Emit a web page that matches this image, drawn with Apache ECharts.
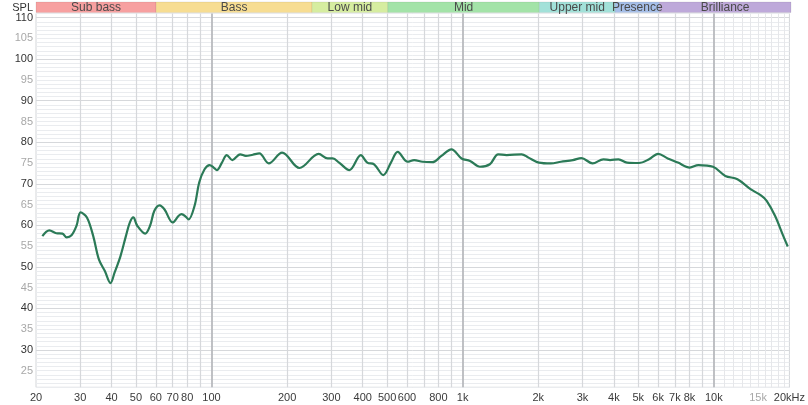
<!DOCTYPE html>
<html>
<head>
<meta charset="utf-8">
<script src="https://cdn.jsdelivr.net/npm/echarts@6/dist/echarts.min.js"></script>
<style>html,body{margin:0;padding:0;background:#fff;}#c{width:808px;height:405px;}</style>
</head>
<body>
<div id="c"></div>
<script>
var freqs = [21.2, 22.6, 24.1, 25.5, 26.5, 27.7, 29.0, 30.1, 31.9, 33.8, 35.6, 37.6, 39.6, 41.1, 43.4, 45.6, 47.3, 48.8, 50.6, 54.4, 56.9, 59.2, 62.1, 65.0, 70.0, 74.0, 76.0, 78.9, 81.0, 85.6, 89.3, 93.8, 98.2, 102, 105, 110, 115, 121, 130, 137, 146, 155, 169, 191, 224, 267, 290, 304, 322, 354, 393, 417, 444, 483, 518, 551, 604, 641, 692, 757, 823, 902, 990, 1070, 1171, 1283, 1385, 1496, 1717, 1828, 2010, 2243, 2462, 2746, 2970, 3291, 3633, 3862, 4173, 4511, 5030, 5522, 6002, 6555, 7195, 8022, 8682, 9926, 11115, 12418, 14000, 15407, 16238, 17526, 18916, 19700];
var spl = [57.4, 58.8, 58.1, 58.0, 57.1, 57.6, 59.9, 63.1, 61.9, 57.4, 51.8, 49.0, 46.1, 48.6, 52.6, 57.4, 60.7, 61.9, 59.9, 58.0, 59.9, 63.5, 64.8, 63.8, 60.7, 62.3, 62.7, 62.1, 61.4, 64.7, 70.3, 73.5, 74.5, 73.9, 73.3, 75.1, 76.9, 75.7, 77.1, 76.7, 77.0, 77.3, 74.9, 77.5, 73.8, 77.2, 76.1, 76.1, 75.1, 73.3, 76.9, 75.1, 74.7, 72.1, 75.1, 77.7, 75.3, 75.7, 75.3, 75.2, 76.7, 78.3, 76.1, 75.5, 74.1, 74.7, 77.1, 76.9, 77.1, 76.3, 75.1, 74.9, 75.3, 75.7, 76.2, 74.9, 75.9, 75.7, 75.9, 75.1, 75.0, 75.9, 77.2, 76.1, 75.1, 73.9, 74.5, 74.1, 71.9, 71.1, 68.7, 67.2, 65.9, 62.3, 57.4, 54.9];

var xTickValues = [20, 30, 40, 50, 60, 70, 80, 100, 200, 300, 400, 500, 600, 800, 1000, 2000, 3000, 4000, 5000, 6000, 7000, 8000, 10000, 15000, 20000];
var xTickLabels = ['20', '30', '40', '50', '60', '70', '80', '100', '200', '300', '400', '500', '600', '800', '1k', '2k', '3k', '4k', '5k', '6k', '7k', '8k', '10k', '15k', '20kHz'];
var xGridValues = [30, 40, 50, 60, 70, 80, 90, 200, 300, 400, 500, 600, 700, 800, 900, 2000, 3000, 4000, 5000, 6000, 7000, 8000, 9000];
var xDecadeValues = [100, 1000, 10000];
var xFineValues = [11000, 12000, 13000, 14000, 15000, 16000, 17000, 18000, 19000];

var bandNames = ['Sub bass', 'Bass', 'Low mid', 'Mid', 'Upper mid', 'Presence', 'Brilliance'];
var bandEdges = [20, 60, 250, 500, 2000, 4000, 6000, 20000];
var bandColors = ['#f7a0a0', '#f7dd92', '#d6eda0', '#a3e3a8', '#a2e1d9', '#a6bfe9', '#bea9da'];

var yMin = 21, yMax = 111;

var FONT = 'Helvetica, Arial, "Liberation Sans", sans-serif';

var chart = echarts.init(document.getElementById('c'), null, {renderer: 'canvas'});

var gridMarks = [];
xGridValues.forEach(function (v) { gridMarks.push({xAxis: v, lineStyle: {color: '#d6d8db', width: 1.2, type: 'solid'}}); });
xFineValues.forEach(function (v) { gridMarks.push({xAxis: v, lineStyle: {color: '#e6e7ea', width: 1, type: 'solid'}}); });
xDecadeValues.forEach(function (v) { gridMarks.push({xAxis: v, lineStyle: {color: '#b8babe', width: 1.8, type: 'solid'}}); });

var bandAreas = [];
for (var i = 0; i < bandNames.length; i++) {
  bandAreas.push([
    {xAxis: bandEdges[i], yAxis: 0, name: bandNames[i], itemStyle: {color: bandColors[i], borderColor: 'rgba(0,0,0,0.12)', borderWidth: 0.6}},
    {xAxis: bandEdges[i + 1], yAxis: 1}
  ]);
}

var yColors = [];
for (var k = 0; k < 10; k++) {
  yColors.push(k === 9 ? '#d6d8db' : '#eaecef');
}

var option = {
  animation: false,
  backgroundColor: '#fff',
  grid: [
    {left: 36, right: 17, top: 13.5, bottom: 17.7, show: true, borderColor: '#d4d6d9', borderWidth: 1, backgroundColor: '#fff'},
    {left: 36, right: 17, top: 2, height: 10.5}
  ],
  xAxis: [
    {
      type: 'log', logBase: 10, min: 20, max: 20000, gridIndex: 0,
      axisLine: {show: false}, axisTick: {show: false}, splitLine: {show: false}, minorSplitLine: {show: false},
      axisLabel: {
        customValues: xTickValues,
        margin: 5,
        fontFamily: FONT, fontSize: 11, color: '#3a3a3a',
        formatter: function (v) {
          var idx = -1;
          for (var j = 0; j < xTickValues.length; j++) { if (Math.abs(xTickValues[j] - v) / xTickValues[j] < 1e-3) idx = j; }
          if (idx < 0) return '';
          var t = xTickLabels[idx];
          return t === '15k' ? '{l|' + t + '}' : t;
        },
        rich: {l: {color: '#a8a8a8', fontSize: 11, fontFamily: FONT}}
      }
    },
    {type: 'log', logBase: 10, min: 20, max: 20000, gridIndex: 1, show: false}
  ],
  yAxis: [
    {
      type: 'value', min: yMin, max: yMax, interval: 1, gridIndex: 0,
      axisLine: {show: false}, axisTick: {show: false},
      splitLine: {show: true, lineStyle: {color: yColors, width: 1}},
      axisLabel: {
        margin: 3,
        fontFamily: FONT, fontSize: 11,
        formatter: function (v) {
          var r = Math.round(v);
          if (r % 10 === 0) return '{d|' + r + '}';
          if (r % 5 === 0) return '{l|' + r + '}';
          return '';
        },
        rich: {
          d: {color: '#333', fontSize: 11, fontFamily: FONT},
          l: {color: '#a8a8a8', fontSize: 11, fontFamily: FONT}
        }
      }
    },
    {type: 'value', min: 0, max: 1, gridIndex: 1, show: false}
  ],
  graphic: [
    {type: 'text', right: 808 - 33, top: 2, style: {text: 'SPL', font: '11px ' + FONT, fill: '#333', textAlign: 'right'}}
  ],
  series: [
    {
      type: 'line', xAxisIndex: 0, yAxisIndex: 0, data: [], silent: true, z: 1,
      markLine: {silent: true, symbol: 'none', label: {show: false}, animation: false, lineStyle: {type: 'solid'}, data: gridMarks}
    },
    {
      type: 'line', xAxisIndex: 1, yAxisIndex: 1, data: [], silent: true,
      markArea: {
        silent: true,
        label: {show: true, position: 'inside', fontFamily: FONT, fontSize: 12, color: '#4a4a4a'},
        data: bandAreas
      }
    },
    {
      type: 'line', xAxisIndex: 0, yAxisIndex: 0, z: 10,
      data: freqs.map(function (f, i) { return [f, spl[i]]; }),
      showSymbol: false, smooth: 0.35,
      lineStyle: {color: '#2b7a57', width: 2.2},
      itemStyle: {color: '#2b7a57'}
    }
  ]
};
chart.setOption(option);
</script>
</body>
</html>
